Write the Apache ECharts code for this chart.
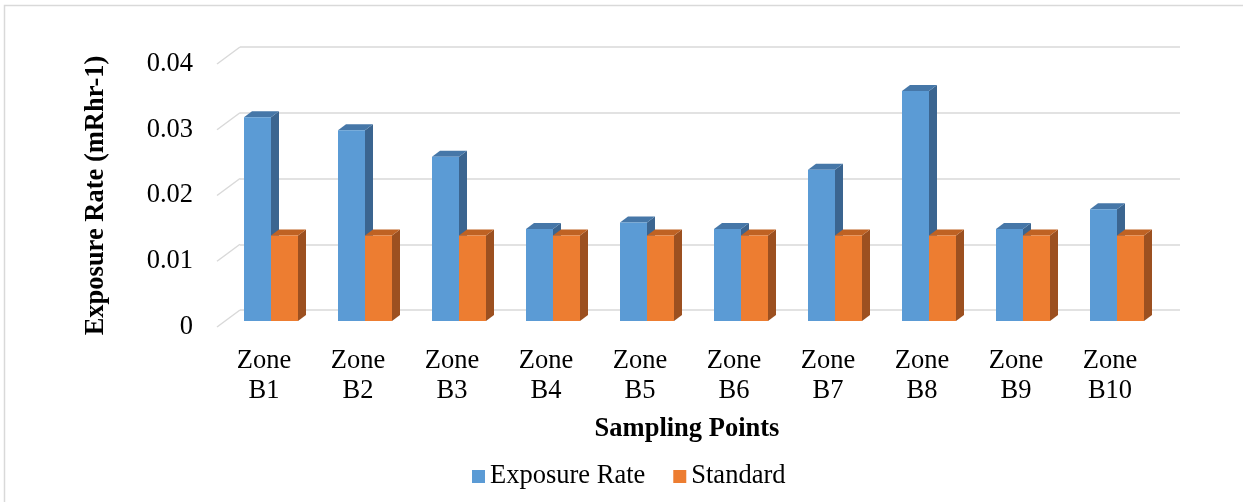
<!DOCTYPE html>
<html>
<head>
<meta charset="utf-8">
<script src="https://cdn.jsdelivr.net/npm/echarts@6/dist/echarts.min.js"></script>
<style>html,body{margin:0;padding:0;background:#fff}#c{width:1243px;height:502px}</style>
</head>
<body>
<div id="c"></div>
<script>
var categories = ['Zone\nB1','Zone\nB2','Zone\nB3','Zone\nB4','Zone\nB5','Zone\nB6','Zone\nB7','Zone\nB8','Zone\nB9','Zone\nB10'];
var exposureRate = [0.031, 0.029, 0.025, 0.014, 0.015, 0.014, 0.023, 0.035, 0.014, 0.017];
var standard = [0.013, 0.013, 0.013, 0.013, 0.013, 0.013, 0.013, 0.013, 0.013, 0.013];
var yTicks = [0, 0.01, 0.02, 0.03, 0.04];

var FONT = '"Liberation Serif", "Times New Roman", serif';
var FS = 26.5;
var BAR_W = 27, SHIFT_X = -16, SHIFT_Y = 11, DEPTH_X = 8, DEPTH_Y = -6;

function barRenderer(slot, front, top, side) {
  return function (params, api) {
    var idx = api.value(0);
    var val = api.value(1);
    var pTop = api.coord([idx, val]);
    var pBot = api.coord([idx, 0]);
    var x0 = pTop[0] - BAR_W + slot * BAR_W + SHIFT_X;
    var x1 = x0 + BAR_W;
    var yt = pTop[1] + SHIFT_Y;
    var yb = pBot[1] + SHIFT_Y;
    return {
      type: 'group',
      children: [
        { type: 'polygon', shape: { points: [[x1, yt], [x1 + DEPTH_X, yt + DEPTH_Y], [x1 + DEPTH_X, yb + DEPTH_Y], [x1, yb]] }, style: { fill: side } },
        { type: 'polygon', shape: { points: [[x0, yt], [x0 + DEPTH_X, yt + DEPTH_Y], [x1 + DEPTH_X, yt + DEPTH_Y], [x1, yt]] }, style: { fill: top } },
        { type: 'rect', shape: { x: x0, y: yt, width: BAR_W, height: yb - yt }, style: { fill: front } }
      ]
    };
  };
}

var chart = echarts.init(document.getElementById('c'), null, { renderer: 'canvas' });
chart.setOption({
  animation: false,
  backgroundColor: '#fff',
  graphic: [{
    type: 'rect', silent: true, z: -10,
    shape: { x: 4.5, y: 5.5, width: 1300, height: 600 },
    style: { fill: 'none', stroke: '#d9d9d9', lineWidth: 1.5 }
  }],
  grid: [
    { left: 240, top: 47, width: 940, height: 263 },
    { left: 217, top: 64, width: 940, height: 263 }
  ],
  xAxis: [
    { type: 'category', gridIndex: 0, data: categories, axisLine: { show: false }, axisTick: { show: false }, axisLabel: { show: false } },
    { type: 'category', gridIndex: 1, data: categories, axisLine: { show: false }, axisTick: { show: false },
      axisLabel: { margin: 19, fontFamily: FONT, fontSize: FS, color: '#000', lineHeight: 30 },
      name: 'Sampling Points', nameLocation: 'middle', nameGap: 89,
      nameTextStyle: { fontFamily: FONT, fontSize: FS, fontWeight: 'bold', color: '#000' } }
  ],
  yAxis: [
    { type: 'value', gridIndex: 0, min: 0, max: 0.04, interval: 0.01, axisLabel: { show: false },
      splitLine: { lineStyle: { color: '#d9d9d9', width: 1.5 } }, axisLine: { show: false }, axisTick: { show: false } },
    { type: 'value', gridIndex: 1, min: 0, max: 0.04, interval: 0.01, splitLine: { show: false },
      axisLine: { show: false }, axisTick: { show: false },
      axisLabel: { margin: 24, fontFamily: FONT, fontSize: FS, color: '#000' },
      name: 'Exposure Rate (mRhr-1)', nameLocation: 'middle', nameGap: 107,
      nameTextStyle: { fontFamily: FONT, fontSize: FS, fontWeight: 'bold', color: '#000' } }
  ],
  legend: {
    left: 467, top: 458, itemWidth: 13, itemHeight: 13, itemGap: 28, icon: 'rect',
    textStyle: { fontFamily: FONT, fontSize: FS, color: '#000' },
    data: ['Exposure Rate', 'Standard']
  },
  series: [
    {
      type: 'custom', name: 'floor', xAxisIndex: 1, yAxisIndex: 1, silent: true, z: 1,
      data: yTicks.map(function (v) { return [0, v]; }),
      renderItem: function (params, api) {
        var p = api.coord([0, api.value(1)]);
        var x = params.coordSys.x;
        return { type: 'line', shape: { x1: x, y1: p[1], x2: x + 23, y2: p[1] - 17 }, style: { stroke: '#d9d9d9', lineWidth: 1.5 } };
      }
    },
    {
      type: 'custom', name: 'Exposure Rate', xAxisIndex: 0, yAxisIndex: 0, z: 3,
      itemStyle: { color: '#5B9BD5' },
      data: exposureRate.map(function (v, i) { return [i, v]; }),
      renderItem: barRenderer(0, '#5B9BD5', '#4677a8', '#3b6590')
    },
    {
      type: 'custom', name: 'Standard', xAxisIndex: 0, yAxisIndex: 0, z: 4,
      itemStyle: { color: '#ED7D31' },
      data: standard.map(function (v, i) { return [i, v]; }),
      renderItem: barRenderer(1, '#ED7D31', '#bf6223', '#9c5020')
    }
  ]
});
</script>
</body>
</html>
